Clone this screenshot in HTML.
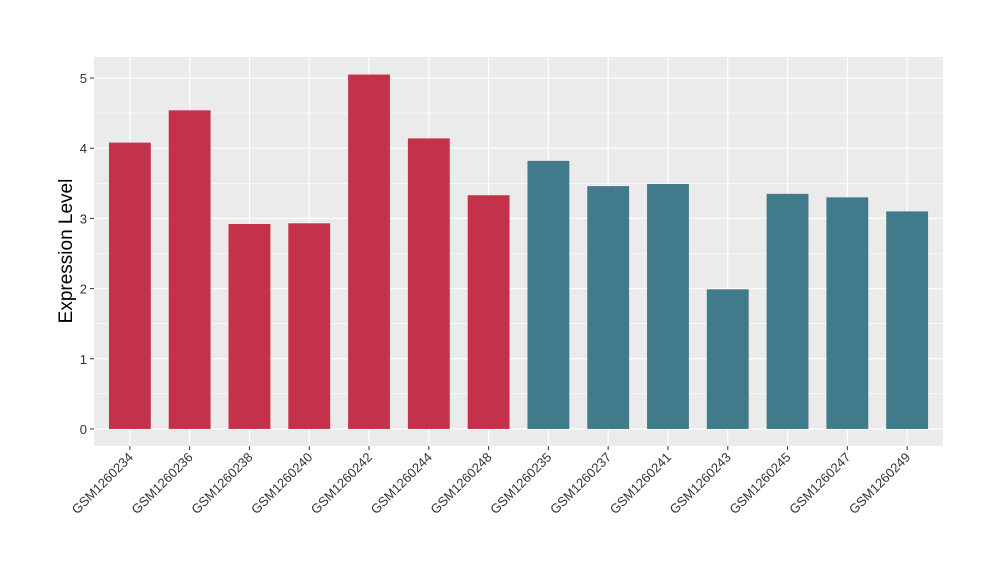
<!DOCTYPE html>
<html><head><meta charset="utf-8"><style>
body{margin:0;background:#fff;}
svg{display:block;font-family:"Liberation Sans",Arial,sans-serif;}
</style></head><body>
<svg id="chart" width="1000" height="580" xmlns="http://www.w3.org/2000/svg">
<rect x="94" y="57" width="849" height="389" fill="#EBEBEB"/>
<g id="grid"></g>
<g id="bars"></g>
<g id="axes"></g>
<text x="0" y="0" transform="translate(72,251) rotate(-90)" text-anchor="middle" font-size="19" fill="#000">Expression Level</text>
</svg>
<script>
const categories=["GSM1260234","GSM1260236","GSM1260238","GSM1260240","GSM1260242","GSM1260244","GSM1260248","GSM1260235","GSM1260237","GSM1260241","GSM1260243","GSM1260245","GSM1260247","GSM1260249"];
const values=[4.08,4.54,2.92,2.93,5.05,4.14,3.33,3.82,3.46,3.49,1.99,3.35,3.30,3.10];
const groups=["a","a","a","a","a","a","a","b","b","b","b","b","b","b"];
const yTicks=[0,1,2,3,4,5];
const colors={a:"#C3314A",b:"#417A8B"};
const ns="http://www.w3.org/2000/svg";
const L=94,R=943,T=57,B=446;
const yMin=-0.243,yMax=5.3;
function y(v){return B-(v-yMin)/(yMax-yMin)*(B-T);}
const step=(R-L)/(categories.length-1+1.2);
function x(i){return L+(0.6+i)*step;}
const bw=step*0.7;
function mk(tag,attrs,parent){const e=document.createElementNS(ns,tag);for(const k in attrs)e.setAttribute(k,attrs[k]);parent.appendChild(e);return e;}
const grid=document.getElementById('grid'),bars=document.getElementById('bars'),axes=document.getElementById('axes');
for(let k=0;k<yTicks.length-1;k++){const m=(yTicks[k]+yTicks[k+1])/2;
 const l=mk('line',{x1:L,x2:R,y1:y(m),y2:y(m),stroke:'#fff','stroke-width':0.6},grid);
 
 }
{const m=yTicks[yTicks.length-1]+0.5;if(m<yMax){const l=mk('line',{x1:L,x2:R,y1:y(m),y2:y(m),stroke:'#fff','stroke-width':0.6},grid);
 
 }}
yTicks.forEach(t=>{
 const l=mk('line',{x1:L,x2:R,y1:y(t),y2:y(t),stroke:'#fff','stroke-width':1.2},grid);
 
 
 const tk=mk('line',{x1:L-4,x2:L,y1:y(t),y2:y(t),stroke:'#333','stroke-width':1},axes);
 
 
 const tx=mk('text',{x:L-7,y:y(t)+5,'text-anchor':'end','font-size':13,fill:'#333'},axes);
 tx.textContent=t;
 
 
});
categories.forEach((c,i)=>{
 const l=mk('line',{x1:x(i),x2:x(i),y1:T,y2:B,stroke:'#fff','stroke-width':1.2},grid);
 
 
 const r=mk('rect',{x:x(i)-bw/2,y:y(values[i]),width:bw,height:y(0)-y(values[i]),fill:colors[groups[i]]},bars);
 
 
 const tk=mk('line',{x1:x(i),x2:x(i),y1:B,y2:B+4,stroke:'#333','stroke-width':1},axes);
 
 
 const tx=mk('text',{x:0,y:0,transform:`translate(${x(i)+4},${B+12}) rotate(-45)`,'text-anchor':'end','font-size':13,fill:'#333'},axes);
 tx.textContent=c;
 
 
});
</script>
</body></html>
